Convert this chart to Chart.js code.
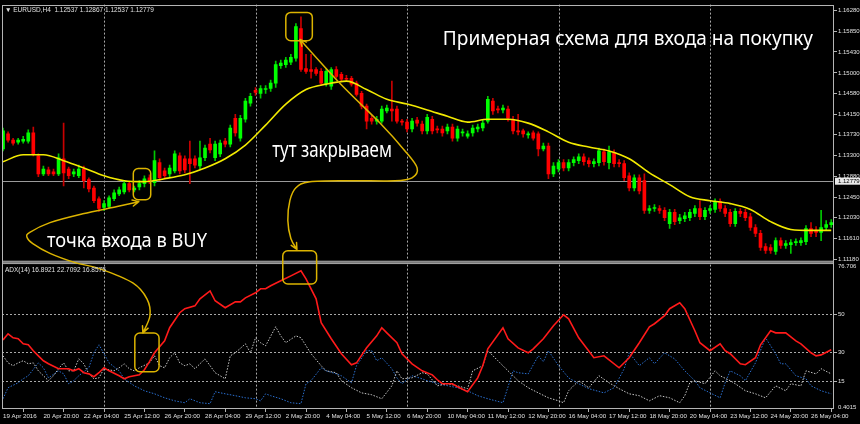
<!DOCTYPE html>
<html><head><meta charset="utf-8">
<script src="https://cdn.jsdelivr.net/npm/chart.js@4.4.0/dist/chart.umd.min.js"></script>
<style>html,body{margin:0;padding:0;background:#000;overflow:hidden}</style>
</head><body>
<canvas id="c" width="860" height="424"></canvas>
<script>
// ---------- DATA ----------
const X_LABELS = ['19 Apr 2016','20 Apr 20:00','22 Apr 04:00','25 Apr 12:00','26 Apr 20:00','28 Apr 04:00','29 Apr 12:00','2 May 20:00','4 May 04:00','5 May 12:00','6 May 20:00','10 May 04:00','11 May 12:00','12 May 20:00','16 May 04:00','17 May 12:00','18 May 20:00','20 May 04:00','23 May 12:00','24 May 20:00','26 May 04:00'];
const PRICE_TICKS = [1.16280,1.15850,1.15430,1.15000,1.14580,1.14150,1.13730,1.13300,1.12880,1.12450,1.12030,1.11610,1.11180];
const ADX_TICKS = [50,30,15];
const ADX_RANGE = [0.4015, 76.706];
const LAST_PRICE = 1.12779;
const HEADER = '\u25BC EURUSD,H4  1.12537 1.12867 1.12537 1.12779';
const ADX_HEADER = 'ADX(14) 16.8921 22.7092 16.8575';

const OPEN = [1.1344,1.1375,1.1362,1.1358,1.1360,1.1360,1.1377,1.1330,1.1293,1.1301,1.1297,1.1293,1.1324,1.1303,1.1293,1.1289,1.1303,1.1281,1.1264,1.1242,
1.1224,1.1226,1.1242,1.1252,1.1256,1.1273,1.1260,1.1266,1.1273,1.1285,1.1275,1.1316,1.1299,1.1293,1.1299,1.1330,1.1324,1.1324,1.1324,1.1309,
1.1326,1.1354,1.1326,1.1334,1.1360,1.1354,1.1407,1.1366,1.1405,1.1438,1.1464,1.1458,1.1466,1.1468,1.1479,1.1515,1.1517,1.1522,1.1530,1.1591,
1.1509,1.1507,1.1507,1.1503,1.1479,1.1473,1.1507,1.1497,1.1489,1.1489,1.1479,1.1458,1.1432,1.1407,1.1401,1.1401,1.1422,1.1426,1.1426,1.1401,
1.1399,1.1385,1.1403,1.1395,1.1381,1.1405,1.1385,1.1385,1.1381,1.1389,1.1366,1.1377,1.1370,1.1377,1.1385,1.1387,1.1401,1.1442,1.1426,1.1424,
1.1426,1.1405,1.1381,1.1381,1.1373,1.1377,1.1375,1.1344,1.1350,1.1293,1.1303,1.1316,1.1305,1.1316,1.1320,1.1328,1.1320,1.1314,1.1316,1.1338,
1.1316,1.1336,1.1316,1.1314,1.1289,1.1264,1.1285,1.1279,1.1218,1.1222,1.1222,1.1218,1.1191,1.1214,1.1197,1.1201,1.1203,1.1212,1.1222,1.1205,
1.1218,1.1220,1.1236,1.1222,1.1214,1.1191,1.1216,1.1214,1.1205,1.1183,1.1171,1.1144,1.1142,1.1134,1.1156,1.1146,1.1148,1.1152,1.1152,1.1154,
1.1181,1.1177,1.1173,1.1183,1.1189];
const HIGH = [1.1387,1.1379,1.1366,1.1366,1.1370,1.1383,1.1389,1.1334,1.1309,1.1307,1.1303,1.1334,1.1397,1.1307,1.1303,1.1311,1.1309,1.1285,1.1268,1.1246,
1.1238,1.1248,1.1260,1.1266,1.1279,1.1277,1.1268,1.1279,1.1289,1.1291,1.1340,1.1324,1.1305,1.1311,1.1340,1.1336,1.1330,1.1360,1.1330,1.1360,
1.1352,1.1366,1.1360,1.1362,1.1366,1.1393,1.1415,1.1413,1.1448,1.1458,1.1470,1.1474,1.1474,1.1485,1.1524,1.1526,1.1532,1.1538,1.1601,1.1615,
1.1538,1.1538,1.1511,1.1509,1.1509,1.1511,1.1513,1.1501,1.1495,1.1493,1.1483,1.1462,1.1436,1.1413,1.1411,1.1432,1.1434,1.1483,1.1432,1.1405,
1.1405,1.1407,1.1409,1.1401,1.1415,1.1411,1.1391,1.1391,1.1395,1.1395,1.1391,1.1385,1.1381,1.1393,1.1395,1.1403,1.1452,1.1448,1.1432,1.1434,
1.1432,1.1411,1.1415,1.1385,1.1379,1.1381,1.1379,1.1356,1.1356,1.1316,1.1322,1.1322,1.1322,1.1328,1.1334,1.1334,1.1326,1.1324,1.1346,1.1344,
1.1350,1.1342,1.1322,1.1320,1.1295,1.1291,1.1291,1.1293,1.1228,1.1230,1.1228,1.1224,1.1220,1.1220,1.1210,1.1214,1.1220,1.1228,1.1238,1.1224,
1.1228,1.1242,1.1242,1.1228,1.1220,1.1222,1.1222,1.1220,1.1212,1.1189,1.1177,1.1150,1.1148,1.1162,1.1162,1.1156,1.1158,1.1160,1.1162,1.1187,
1.1193,1.1185,1.1218,1.1197,1.1199];
const LOW = [1.1340,1.1358,1.1352,1.1354,1.1356,1.1356,1.1330,1.1287,1.1289,1.1289,1.1289,1.1289,1.1268,1.1283,1.1287,1.1285,1.1264,1.1256,1.1234,1.1216,
1.1218,1.1222,1.1238,1.1248,1.1252,1.1256,1.1256,1.1260,1.1266,1.1273,1.1268,1.1279,1.1283,1.1287,1.1295,1.1293,1.1295,1.1273,1.1305,1.1303,
1.1320,1.1336,1.1320,1.1328,1.1348,1.1348,1.1370,1.1360,1.1399,1.1432,1.1454,1.1448,1.1458,1.1462,1.1470,1.1509,1.1511,1.1517,1.1524,1.1503,
1.1499,1.1489,1.1495,1.1475,1.1473,1.1466,1.1489,1.1483,1.1483,1.1473,1.1452,1.1426,1.1385,1.1395,1.1395,1.1397,1.1418,1.1401,1.1397,1.1393,
1.1379,1.1379,1.1391,1.1375,1.1375,1.1375,1.1377,1.1370,1.1375,1.1360,1.1360,1.1370,1.1366,1.1370,1.1379,1.1381,1.1397,1.1415,1.1418,1.1418,
1.1401,1.1375,1.1373,1.1368,1.1366,1.1362,1.1330,1.1340,1.1283,1.1287,1.1297,1.1299,1.1299,1.1309,1.1314,1.1311,1.1307,1.1307,1.1309,1.1311,
1.1303,1.1307,1.1307,1.1279,1.1258,1.1258,1.1252,1.1212,1.1212,1.1216,1.1212,1.1197,1.1181,1.1189,1.1191,1.1195,1.1197,1.1205,1.1199,1.1199,
1.1212,1.1214,1.1216,1.1205,1.1185,1.1185,1.1205,1.1197,1.1177,1.1164,1.1136,1.1130,1.1130,1.1128,1.1140,1.1140,1.1130,1.1146,1.1146,1.1148,
1.1164,1.1164,1.1156,1.1177,1.1183];
const CLOSE = [1.1381,1.1362,1.1356,1.1362,1.1364,1.1377,1.1334,1.1293,1.1303,1.1293,1.1293,1.1326,1.1295,1.1289,1.1297,1.1303,1.1279,1.1262,1.1238,1.1222,
1.1232,1.1244,1.1254,1.1260,1.1273,1.1260,1.1264,1.1273,1.1283,1.1279,1.1320,1.1285,1.1289,1.1305,1.1334,1.1299,1.1301,1.1314,1.1311,1.1326,
1.1346,1.1342,1.1354,1.1356,1.1354,1.1387,1.1377,1.1407,1.1442,1.1452,1.1460,1.1468,1.1468,1.1479,1.1517,1.1520,1.1526,1.1532,1.1595,1.1507,
1.1503,1.1503,1.1499,1.1479,1.1503,1.1507,1.1493,1.1487,1.1487,1.1477,1.1456,1.1432,1.1401,1.1401,1.1405,1.1426,1.1428,1.1422,1.1401,1.1399,
1.1385,1.1401,1.1397,1.1381,1.1409,1.1381,1.1383,1.1377,1.1389,1.1366,1.1385,1.1379,1.1375,1.1387,1.1389,1.1397,1.1446,1.1422,1.1424,1.1428,
1.1407,1.1381,1.1379,1.1375,1.1375,1.1366,1.1344,1.1350,1.1293,1.1309,1.1316,1.1305,1.1316,1.1322,1.1328,1.1318,1.1314,1.1318,1.1340,1.1318,
1.1338,1.1314,1.1314,1.1285,1.1264,1.1285,1.1258,1.1218,1.1222,1.1224,1.1218,1.1203,1.1214,1.1195,1.1203,1.1207,1.1214,1.1222,1.1205,1.1218,
1.1222,1.1236,1.1222,1.1212,1.1191,1.1216,1.1212,1.1203,1.1183,1.1171,1.1142,1.1136,1.1136,1.1156,1.1146,1.1150,1.1152,1.1154,1.1156,1.1181,
1.1171,1.1173,1.1183,1.1189,1.1193];

const MA_IDX = [0,4,8,12,16,20,24,28,32,36,40,44,48,52,56,60,64,68,72,76,80,84,88,92,96,100,104,108,112,116,120,124,128,132,136,140,144,148,152,156,160,164];
const MA_VAL = [1.1318,1.1332,1.1332,1.1320,1.1305,1.1289,1.1279,1.1277,1.1283,1.1291,1.1305,1.1324,1.1352,1.1393,1.1436,1.1466,1.1477,1.1483,1.1466,1.1446,1.1436,1.1424,1.1411,1.1399,1.1405,1.1405,1.1397,1.1379,1.1358,1.1348,1.1340,1.1324,1.1295,1.1271,1.1246,1.1238,1.1232,1.1220,1.1195,1.1179,1.1177,1.1177];

const ADX_IDX = [0,1,2,3,4,5,6,7,8,9,11,12,13,14,15,16,17,18,19,20,21,23,24,25,27,28,29,30,32,33,35,36,38,39,41,42,44,46,47,48,50,51,52,53,55,57,59,60,62,63,65,67,69,70,72,74,75,76,78,79,81,83,85,86,87,89,90,92,94,95,96,99,100,102,104,105,107,109,111,112,114,117,119,122,124,126,128,129,131,132,134,135,137,138,140,142,143,144,146,147,149,150,152,153,155,157,158,160,161,162,164];
const ADX_VAL = [36.8,40.0,37.9,37.4,34.7,34.2,31.1,28.4,25.8,24.2,21.6,21.6,21.6,20.5,21.6,19.5,18.9,17.4,19.5,22.1,20.5,17.9,16.3,17.4,18.4,21.1,25.3,30.0,36.3,43.2,51.1,53.2,54.7,58.4,62.6,57.4,53.7,56.8,56.8,58.9,61.6,63.7,63.7,65.3,67.9,70.5,73.2,68.9,58.4,45.8,37.4,29.5,23.7,24.7,32.6,38.9,43.2,40.5,35.3,29.5,24.2,20.5,18.4,15.8,13.7,13.7,12.1,9.5,16.8,23.2,32.1,43.2,37.4,32.6,30.0,32.1,37.4,44.2,50.0,47.9,37.9,27.4,28.4,22.1,27.4,35.3,43.7,45.3,49.5,53.2,56.3,53.2,41.6,35.3,31.1,34.7,31.1,29.5,24.2,23.7,27.4,34.2,41.6,40.5,40.5,36.3,34.7,30.0,28.4,28.9,31.6];

const PDI_IDX = [0,1,2,3,4,5,6,7,8,9,10,11,12,13,14,15,16,17,18,19,20,22,23,24,25,26,27,29,30,31,32,33,34,35,36,37,38,40,41,42,44,45,46,48,49,50,51,52,54,55,56,58,59,61,63,64,66,67,69,71,73,75,77,78,79,81,83,84,86,88,90,92,93,95,96,98,100,102,104,106,108,110,111,112,114,116,118,120,122,124,126,128,130,132,134,135,136,137,139,141,142,144,145,147,149,151,153,155,156,158,159,161,162,164];
const PDI_VAL = [28.4,24.7,23.2,24.7,25.8,24.2,24.7,20.5,17.9,15.3,17.9,21.6,24.7,20.5,20.5,26.8,24.2,18.9,16.3,16.8,21.6,20.5,22.1,24.2,21.6,20.5,22.1,24.7,28.4,23.2,22.1,27.4,30.0,24.7,23.2,24.2,21.6,26.8,23.2,19.5,16.3,28.4,30.0,34.7,30.0,37.9,35.3,33.7,43.7,38.9,35.3,38.9,37.9,29.5,23.2,20.5,19.5,15.3,11.6,8.9,7.9,5.8,12.6,20.5,16.3,16.8,19.5,18.9,12.6,13.7,12.6,11.1,20.5,23.2,31.1,25.8,20.5,15.3,11.6,8.9,6.3,4.7,3.7,10.0,15.3,11.6,17.9,14.2,11.1,8.4,7.4,4.7,7.4,6.3,3.7,7.4,14.2,15.3,13.7,20.5,17.9,15.3,13.7,10.0,8.4,6.3,12.6,10.0,13.7,12.6,20.5,18.9,21.6,18.9];

const MDI_IDX = [0,1,3,4,5,7,8,9,11,12,13,14,15,17,18,19,20,21,23,24,26,28,30,32,34,36,37,39,41,42,44,46,48,50,51,52,53,55,57,59,60,61,63,64,66,67,69,70,72,73,74,75,77,78,79,81,83,84,87,90,92,94,96,99,101,102,104,106,107,108,110,112,114,116,119,121,123,124,126,128,129,131,133,135,137,138,140,142,143,144,146,147,149,151,153,154,155,157,159,160,162,164];
const MDI_VAL = [5.8,11.6,14.2,16.3,17.9,24.7,22.1,16.8,20.5,18.9,13.7,15.3,17.9,22.1,30.0,34.2,29.5,24.7,20.5,16.3,12.6,10.0,8.4,6.3,4.7,3.7,5.8,3.7,3.2,9.5,8.4,7.4,6.3,5.8,4.7,8.4,7.4,5.8,3.7,3.2,13.7,15.3,22.1,20.5,18.9,17.9,14.2,23.2,31.1,31.1,25.8,27.4,21.6,16.8,13.7,17.9,16.3,15.3,13.2,11.6,10.0,7.4,5.8,3.7,20.5,19.5,18.9,28.4,25.3,31.1,23.2,16.8,13.7,11.1,8.9,11.6,21.6,30.0,23.2,27.4,24.2,30.0,26.8,20.5,15.3,11.6,8.9,6.3,14.2,20.5,17.9,15.3,24.7,37.9,29.5,24.2,24.2,17.9,16.3,12.6,10.0,8.4];

// ---------- STYLE / ANNOTATION CONFIG ----------
const BULL = '#00ff00', BEAR = '#ff0000';
const GRID_IDX = [20,50,80,110,140];
const AXIS_FAMILY = '"Liberation Sans"';
const GOLD = '#dcb400';
const NOTES = {
  boxes: [
    {axis:'y',  i0:25.8, i1:29.25, v0:1.1304, v1:1.1240},
    {axis:'y',  i0:56.0, i1:61.25, v0:1.1624, v1:1.1566},
    {axis:'y2', i0:26.1, i1:30.9,  v0:40.4,   v1:20.0},
    {axis:'y2', i0:55.4, i1:62.1,  v0:83.7,   v1:66.2}
  ],
  arrows: [
    [[26.9,1.1236,'y'],[22.6,1.1226,'y'],[15.8,1.1211,'y'],[9.3,1.1193,'y'],[5.3,1.1173,'y'],[4.75,1.1163,'y'],[5.9,1.1150,'y'],[9.3,1.1130,'y'],[14.3,1.1111,'y'],[19.2,74.2,'y2'],[25.7,66.8,'y2'],[28.5,58.4,'y2'],[29.1,49.5,'y2'],[27.7,40.5,'y2']],
    [[58.8,1.15685,'y'],[66.7,1.14787,'y'],[74.65,1.13971,'y'],[79.6,1.1340,'y'],[82.0,1.13053,'y'],[81.0,1.12849,'y'],[77.6,1.12788,'y'],[68.7,1.12788,'y'],[60.8,1.12768,'y'],[58.0,1.12645,'y'],[56.8,1.1238,'y'],[56.4,1.11972,'y'],[57.0,1.11605,'y'],[58.2,1.1138,'y']]
  ],
  texts: [
    {text:'Примерная схема для входа на покупку', i0:87.1, i1:160.4, v:1.1558, size:20},
    {text:'тут закрываем', i0:53.3, i1:77.0, v:1.1328, size:21},
    {text:'точка входа в BUY', i0:8.7, i1:40.4, v:1.1142, size:20}
  ]
};

// ---------- BUILD ----------
const N = OPEN.length;
const idx = Array.from({length:N}, (_, i) => i);
const isBull = i => CLOSE[i] >= OPEN[i];
const bodies = idx.map(i => ({x:i, y:[Math.min(OPEN[i], CLOSE[i]), Math.max(OPEN[i], CLOSE[i])]}));
const wicks = idx.map(i => ({x:i, y:[LOW[i], HIGH[i]]}));
const pts = (xs, ys) => xs.map((x, k) => ({x, y: ys[k]}));

function spline(ctx, p){
  ctx.moveTo(p[0][0], p[0][1]);
  for (let i = 0; i < p.length - 1; i++){
    const p0 = p[i-1] || p[i], p1 = p[i], p2 = p[i+1], p3 = p[i+2] || p2;
    ctx.bezierCurveTo(p1[0] + (p2[0]-p0[0])/6, p1[1] + (p2[1]-p0[1])/6,
                      p2[0] - (p3[0]-p1[0])/6, p2[1] - (p3[1]-p1[1])/6, p2[0], p2[1]);
  }
}
function head(ctx, tip, from){
  const a = Math.atan2(tip[1]-from[1], tip[0]-from[0]), L = 7;
  for (const s of [-0.45, 0.45]){
    ctx.moveTo(tip[0], tip[1]);
    ctx.lineTo(tip[0] - L*Math.cos(a+s), tip[1] - L*Math.sin(a+s));
  }
}
function rrect(ctx, x0, y0, x1, y1, r){
  const x = Math.min(x0,x1), y = Math.min(y0,y1), w = Math.abs(x1-x0), h = Math.abs(y1-y0);
  ctx.moveTo(x+r, y); ctx.arcTo(x+w, y, x+w, y+h, r); ctx.arcTo(x+w, y+h, x, y+h, r);
  ctx.arcTo(x, y+h, x, y, r); ctx.arcTo(x, y, x+w, y, r); ctx.closePath();
}

const decor = {
  id: 'decor',
  beforeDatasetsDraw(chart){
    const {ctx, chartArea:a, scales:{x, y}} = chart;
    ctx.save();
    ctx.strokeStyle = '#a8a8a8'; ctx.lineWidth = 1; ctx.setLineDash([2,2]);
    for (const g of GRID_IDX){
      const px = Math.round(x.getPixelForValue(g)) + 0.5;
      ctx.beginPath(); ctx.moveTo(px, a.top); ctx.lineTo(px, a.bottom); ctx.stroke();
    }
    ctx.setLineDash([]);
    const py = Math.round(y.getPixelForValue(LAST_PRICE)) + 0.5;
    ctx.strokeStyle = '#9a9a9a';
    ctx.beginPath(); ctx.moveTo(a.left, py); ctx.lineTo(a.right, py); ctx.stroke();
    ctx.restore();
  },
  afterDatasetsDraw(chart){
    const {ctx, chartArea:a, scales} = chart;
    const {x, y, y2} = scales;
    ctx.save();
    const sepBottom = y2.top, sepTop = y.getPixelForValue(PRICE_TICKS[PRICE_TICKS.length-1]) + 1.5;
    ctx.fillStyle = '#000'; ctx.fillRect(a.left, sepTop - 1, a.width, sepBottom - sepTop + 1);
    ctx.fillStyle = '#a0a0a0'; ctx.fillRect(a.left, sepTop, a.width, sepBottom - sepTop);
    ctx.fillStyle = '#6a6a6a'; ctx.fillRect(a.left, sepTop + 1, a.width, 1);
    ctx.strokeStyle = '#b4b4b4'; ctx.lineWidth = 1;
    ctx.strokeRect(Math.round(a.left) + 0.5, Math.round(a.top) + 0.5, Math.round(a.width) - 1, Math.round(a.height) - 1);
    const P = q => [x.getPixelForValue(q[0]), scales[q[2]].getPixelForValue(q[1])];
    ctx.strokeStyle = GOLD; ctx.lineWidth = 1.5; ctx.lineJoin = 'round'; ctx.lineCap = 'round';
    for (const b of NOTES.boxes){
      const s = scales[b.axis];
      ctx.beginPath();
      rrect(ctx, x.getPixelForValue(b.i0), s.getPixelForValue(b.v0), x.getPixelForValue(b.i1), s.getPixelForValue(b.v1), 5);
      ctx.stroke();
    }
    for (const ar of NOTES.arrows){
      const p = ar.map(P);
      ctx.beginPath(); spline(ctx, p);
      head(ctx, p[0], p[1]);
      head(ctx, p[p.length-1], p[p.length-2]);
      ctx.stroke();
    }
    ctx.fillStyle = '#ffffff'; ctx.textBaseline = 'alphabetic'; ctx.textAlign = 'left';
    for (const t of NOTES.texts){
      ctx.font = t.size + 'px "Noto Sans"';
      const w = ctx.measureText(t.text).width;
      const x0 = x.getPixelForValue(t.i0), x1 = x.getPixelForValue(t.i1), yb = y.getPixelForValue(t.v);
      ctx.save(); ctx.translate(x0, yb); ctx.scale((x1 - x0) / w, 1); ctx.fillText(t.text, 0, 0); ctx.restore();
    }
    ctx.restore();
  },
  afterDraw(chart){
    const {ctx, chartArea:a, scales:{y, y2}} = chart;
    ctx.save();
    ctx.font = '6.5px ' + AXIS_FAMILY; ctx.fillStyle = '#e0e0e0'; ctx.textBaseline = 'top'; ctx.textAlign = 'left';
    ctx.fillText(HEADER, a.left + 3, a.top + 2);
    ctx.fillText(ADX_HEADER, a.left + 3, y2.top + 3);
    ctx.font = '6px ' + AXIS_FAMILY;
    ctx.fillText(ADX_RANGE[1].toFixed(3), a.right + 4, y2.getPixelForValue(ADX_RANGE[1]) - 1);
    ctx.textBaseline = 'bottom';
    ctx.fillText(ADX_RANGE[0].toFixed(4), a.right + 4, y2.getPixelForValue(ADX_RANGE[0]) + 1);
    const py = y.getPixelForValue(LAST_PRICE);
    ctx.fillStyle = '#e8e8e8'; ctx.fillRect(a.right + 1, py - 3.5, 860 - a.right - 1, 7);
    ctx.fillStyle = '#000'; ctx.textBaseline = 'middle';
    ctx.fillText(LAST_PRICE.toFixed(5), a.right + 4, py + 0.5);
    ctx.restore();
  }
};

new Chart(document.getElementById('c'), {
  type: 'bar',
  data: {
    datasets: [
      {type:'line', label:'MA', data: pts(MA_IDX, MA_VAL), borderColor:'#f2ea00', borderWidth:1.6, pointRadius:0, cubicInterpolationMode:'monotone', yAxisID:'y', order:1},
      {type:'bar', label:'body', data: bodies, backgroundColor: c => isBull(c.dataIndex) ? BULL : BEAR, barThickness:3, minBarLength:1, grouped:false, borderWidth:0, yAxisID:'y', order:2},
      {type:'bar', label:'wick', data: wicks, backgroundColor: c => isBull(c.dataIndex) ? '#00c800' : '#c80000', barThickness:1, grouped:false, borderWidth:0, yAxisID:'y', order:3},
      {type:'line', label:'ADX', data: pts(ADX_IDX, ADX_VAL), borderColor:'#ff1a1a', borderWidth:1.6, pointRadius:0, tension:0, yAxisID:'y2', order:4},
      {type:'line', label:'+DI', data: pts(PDI_IDX, PDI_VAL), borderColor:'#c8c8c8', borderWidth:1, borderDash:[1.5,1.5], pointRadius:0, tension:0, yAxisID:'y2', order:5},
      {type:'line', label:'-DI', data: pts(MDI_IDX, MDI_VAL), borderColor:'#2a6fd0', borderWidth:1, borderDash:[1.5,1.5], pointRadius:0, tension:0, yAxisID:'y2', order:6}
    ]
  },
  options: {
    responsive:false, animation:false, events:[],
    layout:{padding:{left:2, top:3, right:0, bottom:0}},
    plugins:{legend:{display:false}, tooltip:{enabled:false}},
    scales: {
      x: {
        type:'linear', min:-0.2, max:164.55, offset:false,
        afterBuildTicks: s => { s.ticks = X_LABELS.map((_, k) => ({value: k*8})); },
        afterFit: s => { s.height = 15; },
        ticks:{autoSkip:false, maxRotation:0, align:'start', padding:1, color:'#e0e0e0', font:{family:AXIS_FAMILY, size:6.2}, callback:(v, k) => X_LABELS[k]},
        grid:{drawOnChartArea:false, drawTicks:true, tickLength:3, color:'#b4b4b4'},
        border:{display:false}
      },
      y: {
        type:'linear', position:'right', stack:'panes', stackWeight:260.5, min:1.1108, max:1.1640,
        afterBuildTicks: s => { s.ticks = PRICE_TICKS.map(v => ({value:v})); },
        afterFit: s => { s.width = 26; },
        ticks:{padding:1, color:'#e0e0e0', font:{family:AXIS_FAMILY, size:6}, callback: v => v.toFixed(5)},
        grid:{drawOnChartArea:false, drawTicks:true, tickLength:3, color:'#b4b4b4'},
        border:{display:false}
      },
      y2: {
        type:'linear', position:'right', stack:'panes', stackWeight:145.5, min:ADX_RANGE[0], max:ADX_RANGE[1],
        afterBuildTicks: s => { s.ticks = ADX_TICKS.map(v => ({value:v})); },
        afterFit: s => { s.width = 26; },
        ticks:{padding:1, color:'#e0e0e0', font:{family:AXIS_FAMILY, size:6}, callback: v => String(v)},
        grid:{drawOnChartArea:true, drawTicks:true, tickLength:3, color:'#a8a8a8', tickColor:'#b4b4b4'},
        border:{display:false, dash:[2,2]}
      }
    }
  },
  plugins:[decor]
});
</script>
</body></html>
